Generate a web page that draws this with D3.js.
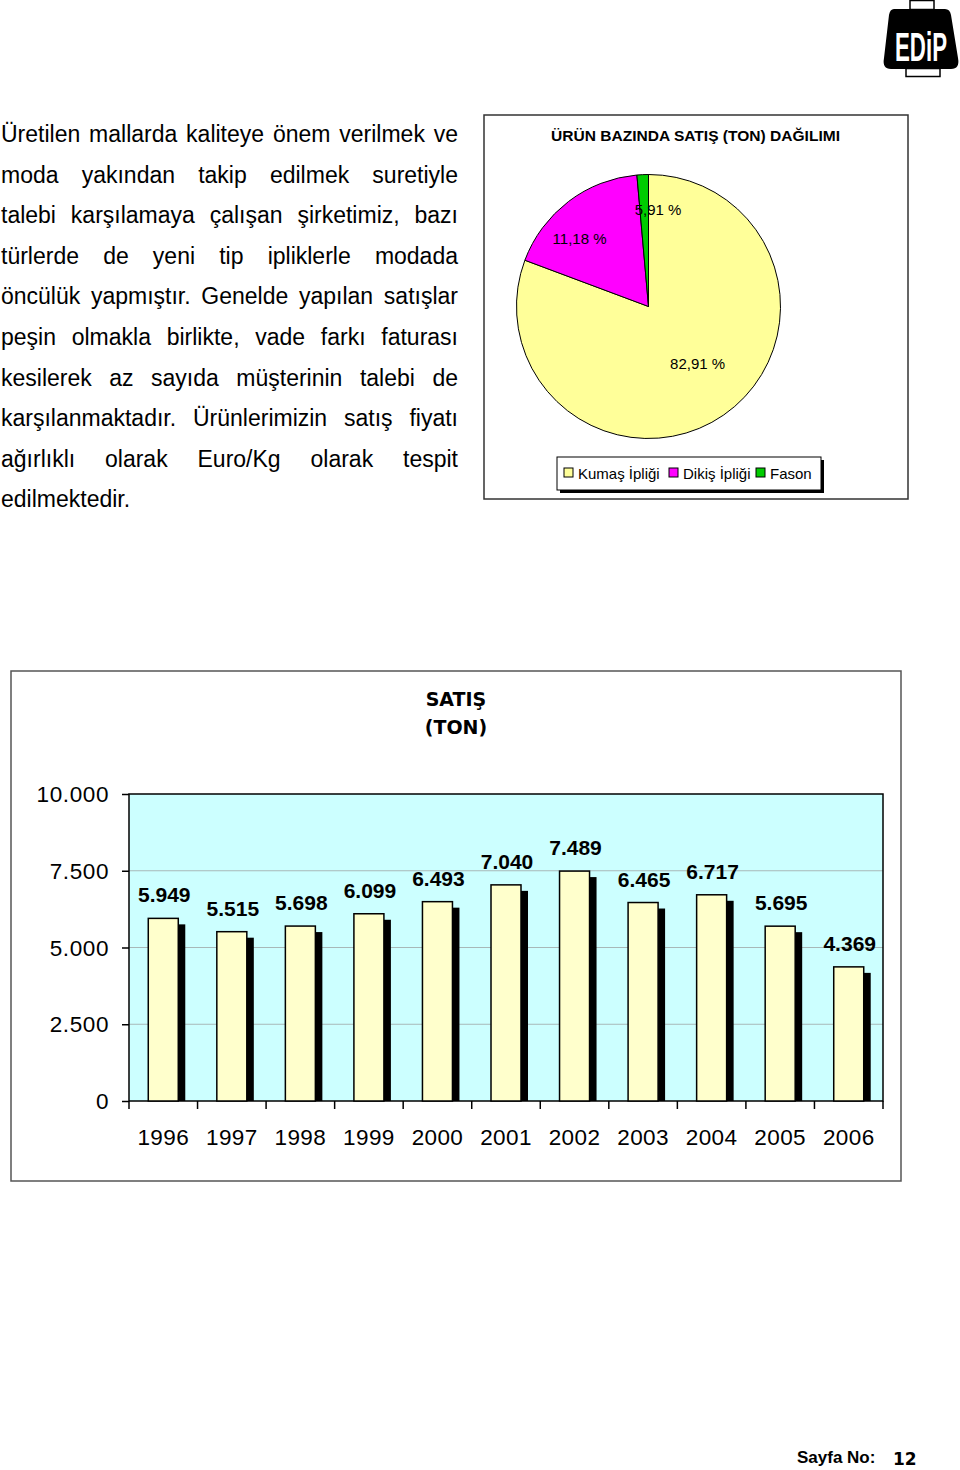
<!DOCTYPE html>
<html>
<head>
<meta charset="utf-8">
<script src="https://cdn.jsdelivr.net/npm/d3@7"></script>
<style>
  html, body { margin: 0; padding: 0; background: #fff; }
  svg { display: block; }
</style>
</head>
<body>
<svg id="page" width="960" height="1470"></svg>
<script>
// ---------------- DATA ----------------
const paragraphLines = [
  "Üretilen mallarda kaliteye önem verilmek ve",
  "moda yakından takip edilmek suretiyle",
  "talebi karşılamaya çalışan şirketimiz, bazı",
  "türlerde de yeni tip ipliklerle modada",
  "öncülük yapmıştır. Genelde yapılan satışlar",
  "peşin olmakla birlikte, vade farkı faturası",
  "kesilerek az sayıda müşterinin talebi de",
  "karşılanmaktadır. Ürünlerimizin satış fiyatı",
  "ağırlıklı olarak Euro/Kg olarak tespit",
  "edilmektedir."
];

const pieTitle = "ÜRÜN BAZINDA SATIŞ (TON) DAĞILIMI";
const pieCategories = ["Kumaş İpliği", "Dikiş İpliği", "Fason"];
const pieShares = [80.7, 17.9, 1.4];          // slice sizes as drawn in the picture
const pieLabels = ["82,91 %", "11,18 %", "5,91 %"]; // printed labels
const pieColors = ["#FFFF99", "#FF00FF", "#00CC00"];

const barTitle = ["SATIŞ", "(TON)"];
const years = ["1996","1997","1998","1999","2000","2001","2002","2003","2004","2005","2006"];
const sales = [5949, 5515, 5698, 6099, 6493, 7040, 7489, 6465, 6717, 5695, 4369];
const yTicks = [0, 2500, 5000, 7500, 10000];
const yTickLabels = ["0", "2.500", "5.000", "7.500", "10.000"];

const pageLabel = "Sayfa No:";
const pageNumber = "12";

// ---------------- PAGE ----------------
const svg = d3.select("#page");
const FONT = "'Liberation Sans', Arial, sans-serif";

// Logo
const logo = svg.append("g");
logo.append("rect").attr("x", 910).attr("y", 0.5).attr("width", 24).attr("height", 9)
  .attr("fill", "#fff").attr("stroke", "#000").attr("stroke-width", 1.5);
logo.append("path")
  .attr("d", "M894,9 L945,9 Q950,9 951,15 L958,58 Q960,69 951,69 L891,69 Q882,69 884,58 L889,15 Q890,9 894,9 Z")
  .attr("fill", "#000");
logo.append("rect").attr("x", 906).attr("y", 68.5).attr("width", 34).attr("height", 8)
  .attr("fill", "#fff").attr("stroke", "#000").attr("stroke-width", 1.5);
logo.append("text").attr("x", 921).attr("y", 61).attr("text-anchor", "middle")
  .attr("font-family", FONT).attr("font-weight", "bold").attr("font-size", 40)
  .attr("fill", "#fff").attr("textLength", 52).attr("lengthAdjust", "spacingAndGlyphs")
  .text("EDiP");

// Justified paragraph
const para = svg.append("g").attr("font-family", FONT).attr("font-size", 23).attr("fill", "#000");
const paraLeft = 1, paraRight = 458, paraTop = 142, paraStep = 40.6;
paragraphLines.forEach((line, i) => {
  const yy = paraTop + i * paraStep;
  const words = line.split(" ");
  const isLast = i === paragraphLines.length - 1;
  const nodes = words.map(w => para.append("text").attr("y", yy).text(w));
  const widths = nodes.map(n => n.node().getComputedTextLength());
  const total = d3.sum(widths);
  const gap = (isLast || words.length < 2) ? 6.4 : (paraRight - paraLeft - total) / (words.length - 1);
  let xx = paraLeft;
  nodes.forEach((n, k) => { n.attr("x", xx); xx += widths[k] + gap; });
});

// ---------------- PIE CHART ----------------
svg.append("rect").attr("x", 484).attr("y", 115).attr("width", 424).attr("height", 384)
  .attr("fill", "#fff").attr("stroke", "#333").attr("stroke-width", 1.5);
svg.append("text").attr("x", 551).attr("y", 141)
  .attr("font-family", FONT).attr("font-weight", "bold").attr("font-size", 15)
  .attr("textLength", 289).attr("lengthAdjust", "spacingAndGlyphs")
  .text(pieTitle);

const pcx = 648.5, pcy = 306.5, pr = 132;
const pie = d3.pie().sort(null).value(d => d)(pieShares);
const arc = d3.arc().innerRadius(0).outerRadius(pr);
const pg = svg.append("g").attr("transform", `translate(${pcx},${pcy})`);
pg.selectAll("path").data(pie).join("path")
  .attr("d", arc).attr("fill", (d, i) => pieColors[i])
  .attr("stroke", "#000").attr("stroke-width", 1);

const labelArc = d3.arc().innerRadius(pr * 0.6).outerRadius(pr * 0.6);
const labelNudge = [[4, -8], [-21, -5], [13, -18]];
pg.selectAll("text.pl").data(pie).join("text").attr("class", "pl")
  .attr("x", (d, i) => labelArc.centroid(d)[0] + labelNudge[i][0])
  .attr("y", (d, i) => labelArc.centroid(d)[1] + labelNudge[i][1])
  .attr("dy", "0.35em").attr("text-anchor", "middle")
  .attr("font-family", FONT).attr("font-size", 15).attr("fill", "#000")
  .text((d, i) => pieLabels[i]);

// Legend
const lg = svg.append("g");
lg.append("rect").attr("x", 560).attr("y", 460).attr("width", 264).attr("height", 33).attr("fill", "#000");
lg.append("rect").attr("x", 557).attr("y", 457).attr("width", 264).attr("height", 33)
  .attr("fill", "#fff").attr("stroke", "#000").attr("stroke-width", 1);
const legendX = [564, 669, 756];
pieCategories.forEach((c, i) => {
  lg.append("rect").attr("x", legendX[i]).attr("y", 468).attr("width", 9).attr("height", 9)
    .attr("fill", pieColors[i]).attr("stroke", "#000").attr("stroke-width", 1);
  lg.append("text").attr("x", legendX[i] + 14).attr("y", 479)
    .attr("font-family", FONT).attr("font-size", 15).text(c);
});

// ---------------- BAR CHART ----------------
svg.append("rect").attr("x", 11).attr("y", 671).attr("width", 890).attr("height", 510)
  .attr("fill", "#fff").attr("stroke", "#555").attr("stroke-width", 1.5);

svg.append("g").attr("font-family", "'DejaVu Sans', Verdana, sans-serif")
  .attr("font-weight", "bold").attr("font-size", 19).attr("text-anchor", "middle")
  .selectAll("text").data(barTitle).join("text")
  .attr("x", 456).attr("y", (d, i) => 706 + i * 28).text(d => d);

const pLeft = 129, pRight = 883, pTop = 794, pBottom = 1101;
const x = d3.scaleBand().domain(years).range([pLeft, pRight]).padding(0);
const y = d3.scaleLinear().domain([0, 10000]).range([pBottom, pTop]);

svg.append("rect").attr("x", pLeft).attr("y", pTop).attr("width", pRight - pLeft).attr("height", pBottom - pTop)
  .attr("fill", "#CCFFFF");

// gridlines
svg.append("g").selectAll("line").data(yTicks.filter(t => t > 0 && t < 10000)).join("line")
  .attr("x1", pLeft).attr("x2", pRight).attr("y1", d => y(d)).attr("y2", d => y(d))
  .attr("stroke", "#A8B8B8").attr("stroke-width", 1);

// plot frame
svg.append("rect").attr("x", pLeft).attr("y", pTop).attr("width", pRight - pLeft).attr("height", pBottom - pTop)
  .attr("fill", "none").attr("stroke", "#000").attr("stroke-width", 1.5);

const fmt = d3.formatLocale({ decimal: ",", thousands: ".", grouping: [3], currency: ["", ""] }).format(",d");

const barW = 30, shX = 7, shY = 6;
const bars = svg.append("g");
bars.selectAll("rect.sh").data(sales).join("rect").attr("class", "sh")
  .attr("x", (d, i) => x(years[i]) + x.bandwidth() / 2 - barW / 2 + shX)
  .attr("y", d => y(d) + shY)
  .attr("width", barW).attr("height", d => pBottom - y(d) - shY)
  .attr("fill", "#000");
bars.selectAll("rect.b").data(sales).join("rect").attr("class", "b")
  .attr("x", (d, i) => x(years[i]) + x.bandwidth() / 2 - barW / 2)
  .attr("y", d => y(d))
  .attr("width", barW).attr("height", d => pBottom - y(d))
  .attr("fill", "#FFFFCC").attr("stroke", "#000").attr("stroke-width", 1.5);

svg.append("g").attr("font-family", FONT).attr("font-weight", "bold").attr("font-size", 21)
  .attr("text-anchor", "middle")
  .selectAll("text").data(sales).join("text")
  .attr("x", (d, i) => x(years[i]) + x.bandwidth() / 2 + 1)
  .attr("y", d => y(d) - 16)
  .text(d => fmt(d));

// y axis
const yAxis = d3.axisLeft(y).tickValues(yTicks).tickSize(7).tickPadding(13)
  .tickFormat((d, i) => yTickLabels[i]);
const ya = svg.append("g").attr("transform", `translate(${pLeft},0)`).call(yAxis);
ya.select(".domain").remove();
ya.selectAll(".tick line").attr("stroke", "#000").attr("stroke-width", 1.5);
ya.selectAll(".tick text").attr("font-family", FONT).attr("font-size", 22.5).attr("fill", "#000")
  .attr("letter-spacing", 0.6).attr("dy", "0.34em");

// x axis: ticks at category boundaries
const xb = svg.append("g");
const boundaries = years.map(yr => x(yr)).concat([pRight]);
xb.selectAll("line").data(boundaries).join("line")
  .attr("x1", d => d).attr("x2", d => d).attr("y1", pBottom).attr("y2", pBottom + 8)
  .attr("stroke", "#000").attr("stroke-width", 1.5);
xb.selectAll("text").data(years).join("text")
  .attr("x", d => x(d) + x.bandwidth() / 2).attr("y", 1145)
  .attr("text-anchor", "middle").attr("font-family", FONT).attr("font-size", 22.5)
  .attr("letter-spacing", 0.4)
  .text(d => d);

// ---------------- FOOTER ----------------
svg.append("text").attr("x", 797).attr("y", 1463)
  .attr("font-family", FONT).attr("font-weight", "bold").attr("font-size", 17).text(pageLabel);
svg.append("text").attr("x", 893).attr("y", 1465)
  .attr("font-family", "'DejaVu Sans', Verdana, sans-serif").attr("font-weight", "bold").attr("font-size", 17).text(pageNumber);
</script>
</body>
</html>
